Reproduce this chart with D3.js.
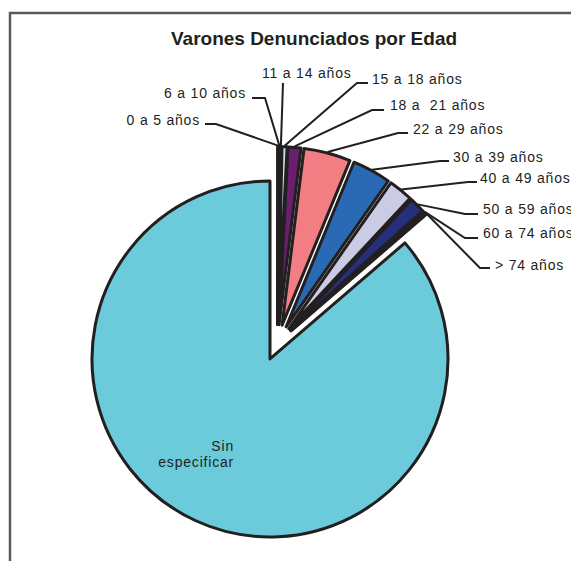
<!DOCTYPE html>
<html>
<head>
<meta charset="utf-8">
<script src="https://cdn.jsdelivr.net/npm/d3@7"></script>
<style>
  body { margin: 0; background: #fff; }
  text { font-family: 'Liberation Sans', Arial, sans-serif; fill: #231f20; white-space: pre; }
  .label { font-size: 14px; letter-spacing: 0.8px; }
  .title { font-size: 19px; font-weight: bold; }
</style>
</head>
<body>
<div id="chart"></div>
<script>
// age groups, share of reports (%)
const categories = ['0 a 5 años', '6 a 10 años', '11 a 14 años', '15 a 18 años', '18 a  21 años',
  '22 a 29 años', '30 a 39 años', '40 a 49 años', '50 a 59 años', '60 a 74 años', '> 74 años', 'Sin especificar'];
const values = [0.1, 0.1, 0.15, 0.45, 1.17, 4.25, 3.5, 2.2, 1.4, 0.25, 0.12, 86.3];
const colors = ['#8f8fd8', '#8e3063', '#faf6c8', '#c6e8f0', '#6b1e6e', '#f27e83', '#2a69b3',
  '#cbcbe6', '#262f7c', '#c8409a', '#f2e600', '#6bcbdb'];

// label placement (text x / baseline, leader elbow and end)
const labelPos = [
  { x: 200, y: 125, anchor: 'end', lineY: 124, elbowX: 216, endX: 205 },
  { x: 246, y: 98, anchor: 'end', lineY: 98, elbowX: 265, endX: 252 },
  { x: 262, y: 78, anchor: 'start', lineY: 83, elbowX: 283, endX: 283 },
  { x: 372, y: 84, anchor: 'start', lineY: 83, elbowX: 357, endX: 368 },
  { x: 390, y: 110, anchor: 'start', lineY: 110, elbowX: 372, endX: 384 },
  { x: 413, y: 134, anchor: 'start', lineY: 133, elbowX: 398, endX: 408 },
  { x: 453, y: 162, anchor: 'start', lineY: 161, elbowX: 440, endX: 449 },
  { x: 480, y: 183, anchor: 'start', lineY: 182, elbowX: 468, endX: 477 },
  { x: 483, y: 214, anchor: 'start', lineY: 214, elbowX: 465, endX: 478 },
  { x: 483, y: 238, anchor: 'start', lineY: 238, elbowX: 465, endX: 478 },
  { x: 495, y: 270, anchor: 'start', lineY: 268, elbowX: 480, endX: 490 }
];

const width = 571, height = 561;
const cx = 277.5, cy = 342.6, radius = 178, explode = 18;

const svg = d3.select('#chart').append('svg')
  .attr('width', width)
  .attr('height', height);

// chart frame (runs off right and bottom)
svg.append('path')
  .attr('d', `M10,${height} V13 H${width}`)
  .attr('fill', 'none')
  .attr('stroke', '#5a5a5a')
  .attr('stroke-width', 2.5);

svg.append('text')
  .attr('class', 'title')
  .attr('x', 314)
  .attr('y', 45)
  .attr('text-anchor', 'middle')
  .text('Varones Denunciados por Edad');

const data = categories.map((c, i) => ({ name: c, value: values[i], color: colors[i] }));

const pie = d3.pie().sort(null).value(d => d.value);
const arcs = pie(data);
const arc = d3.arc().innerRadius(0).outerRadius(radius);

const mid = d => (d.startAngle + d.endAngle) / 2;
const offset = (d, r) => [Math.sin(mid(d)) * r, -Math.cos(mid(d)) * r];

const g = svg.append('g').attr('transform', `translate(${cx},${cy})`);

g.selectAll('path.slice')
  .data(arcs)
  .enter()
  .append('path')
  .attr('class', 'slice')
  .attr('transform', d => `translate(${offset(d, explode)})`)
  .attr('d', arc)
  .attr('fill', d => d.data.color)
  .attr('stroke', '#231f20')
  .attr('stroke-width', 3)
  .attr('stroke-linejoin', 'round');

// leader lines for the small slices
const line = d3.line();
const small = arcs.slice(0, labelPos.length);

g.selectAll('path.leader')
  .data(small)
  .enter()
  .append('path')
  .attr('class', 'leader')
  .attr('d', (d, i) => {
    const p = labelPos[i];
    const s = offset(d, radius + explode + 1);
    return line([s, [p.elbowX - cx, p.lineY - cy], [p.endX - cx, p.lineY - cy]]);
  })
  .attr('fill', 'none')
  .attr('stroke', '#231f20')
  .attr('stroke-width', 2);

svg.selectAll('text.label')
  .data(small)
  .enter()
  .append('text')
  .attr('class', 'label')
  .attr('x', (d, i) => labelPos[i].x)
  .attr('y', (d, i) => labelPos[i].y)
  .attr('text-anchor', (d, i) => labelPos[i].anchor)
  .text(d => d.data.name);

// label inside the big slice
const big = svg.append('text')
  .attr('class', 'label')
  .attr('text-anchor', 'end');
big.append('tspan').attr('x', 234).attr('y', 451).text('Sin');
big.append('tspan').attr('x', 234).attr('y', 467).text('especificar');
</script>
</body>
</html>
